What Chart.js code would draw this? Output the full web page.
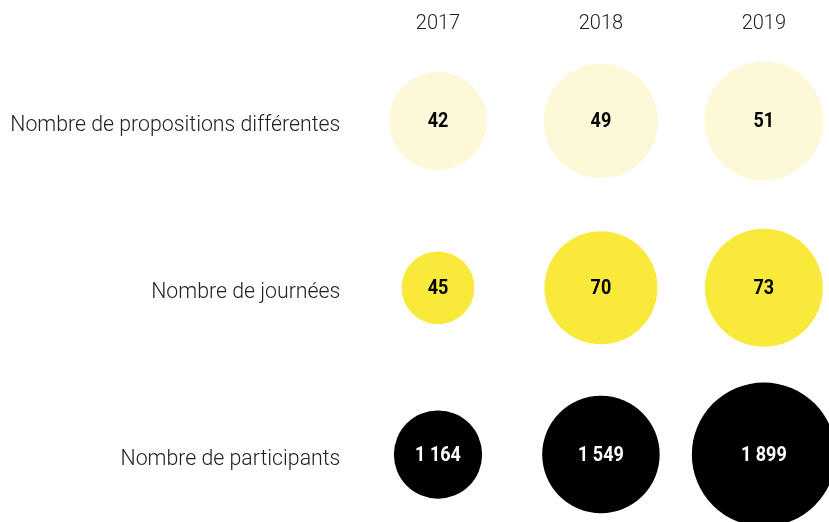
<!DOCTYPE html>
<html>
<head>
<meta charset="utf-8">
<script src="https://cdn.jsdelivr.net/npm/chart.js@4.4.1/dist/chart.umd.min.js"></script>
<style>
  html, body { margin: 0; padding: 0; background: #fff; }
  #wrap { width: 829px; height: 522px; }
</style>
</head>
<body>
<div id="wrap"><canvas id="bulles"></canvas></div>
<script>
const annees = ['2017', '2018', '2019'];
const lignes = ['Nombre de propositions différentes', 'Nombre de journées', 'Nombre de participants'];
const propositions = [42, 49, 51];
const journees = [45, 70, 73];
const participants = [1164, 1549, 1899];

const series = [propositions, journees, participants];
const couleurs = ['#FDF8D7', '#F9E93A', '#000000'];
const couleursTexte = ['#000000', '#000000', '#ffffff'];
// rayon (px) du plus gros cercle de chaque ligne
const rayonMax = [59.5, 59, 72];

function formatNombre(n) {
    return String(n).replace(/\B(?=(\d{3})+(?!\d))/g, ' ');
}

const datasets = series.map((valeurs, ligne) => {
    const maxi = Math.max(...valeurs);
    return {
        data: valeurs.map((v, col) => ({ x: col, y: ligne, v: v, r: v / maxi * rayonMax[ligne] })),
        backgroundColor: couleurs[ligne],
        borderWidth: 0,
        hoverBorderWidth: 0,
        clip: false
    };
});

const etiquettes = {
    id: 'etiquettes',
    afterDatasetsDraw(chart) {
        const ctx = chart.ctx;
        chart.data.datasets.forEach((ds, i) => {
            chart.getDatasetMeta(i).data.forEach((pt, j) => {
                ctx.save();
                ctx.translate(pt.x, pt.y + 1);
                ctx.scale(0.9, 1);
                ctx.font = 'bold 20px Roboto';
                ctx.fillStyle = couleursTexte[i];
                ctx.textAlign = 'center';
                ctx.textBaseline = 'middle';
                ctx.fillText(formatNombre(ds.data[j].v), 0, 0);
                ctx.restore();
            });
        });
    }
};

new Chart(document.getElementById('bulles'), {
    type: 'bubble',
    data: { datasets: datasets },
    plugins: [etiquettes],
    options: {
        responsive: true,
        maintainAspectRatio: false,
        animation: false,
        layout: { padding: 0, autoPadding: false },
        plugins: { legend: { display: false }, tooltip: { enabled: false } },
        scales: {
            x: {
                type: 'linear',
                position: 'top',
                min: -0.55,
                max: 2.4,
                afterBuildTicks: axe => { axe.ticks = annees.map((a, i) => ({ value: i })); },
                afterFit: axe => { axe.height = 46; },
                ticks: {
                    callback: v => annees[v],
                    color: '#222',
                    font: { family: 'Roboto', size: 20, weight: 300 },
                    padding: 10,
                    maxRotation: 0
                },
                grid: { display: false, drawTicks: false },
                border: { display: false }
            },
            y: {
                type: 'linear',
                reverse: true,
                min: -0.45,
                max: 2.28,
                afterBuildTicks: axe => { axe.ticks = lignes.map((l, i) => ({ value: i })); },
                afterFit: axe => { axe.width = 348.4; },
                ticks: {
                    callback: v => lignes[v],
                    color: '#222',
                    font: { family: 'Roboto', size: 21.3, weight: 300 },
                    padding: 8,
                    labelOffset: 5
                },
                grid: { display: false, drawTicks: false },
                border: { display: false }
            }
        }
    }
});
</script>
</body>
</html>
